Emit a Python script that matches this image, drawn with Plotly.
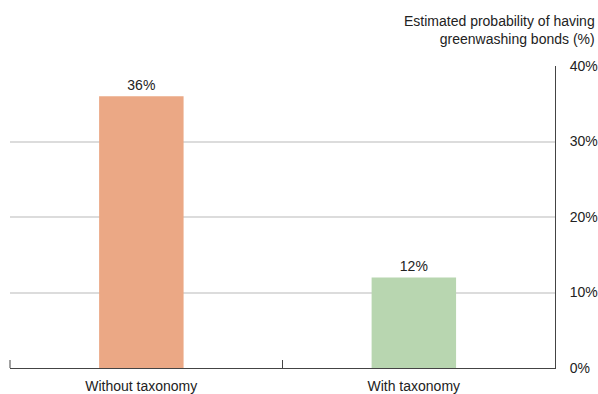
import plotly.graph_objects as go

categories = ["Without taxonomy", "With taxonomy"]
values = [36, 12]
bar_colors = ["#EBA885", "#B8D6B0"]
y_ticks = [0, 10, 20, 30, 40]
y_tick_labels = ["0%", "10%", "20%", "30%", "40%"]
title_text = "Estimated probability of having<br>greenwashing bonds (%)"

FONT = "Liberation Sans, Arial, sans-serif"

fig = go.Figure(go.Bar(
    x=categories, y=values,
    marker=dict(color=bar_colors, line=dict(width=0)),
    text=[f"{v}%" for v in values],
    textposition="outside",
    textfont=dict(size=14, color="#222222", family=FONT),
    cliponaxis=False,
    width=0.31,
    offset=-0.173,
))

fig.update_layout(
    width=598, height=394,
    margin=dict(l=10, r=43, t=66, b=26),
    paper_bgcolor="white", plot_bgcolor="white",
    showlegend=False,
    font=dict(family=FONT, size=14, color="#222222"),
    xaxis=dict(
        showline=True, linecolor="#444444", linewidth=1,
        ticks="inside", ticklen=8, tickcolor="#444444", tickwidth=1,
        tickson="boundaries", showgrid=False, automargin=False,
        tickfont=dict(size=14, color="#222222"),
        ticklabelstandoff=5, ticklabelshift=-5,
        range=[-0.5, 1.5],
    ),
    yaxis=dict(
        side="right", range=[0, 40], automargin=False,
        tickvals=y_ticks, ticktext=y_tick_labels,
        showline=True, linecolor="#444444", linewidth=1,
        showgrid=True, gridcolor="#DCDCDC", gridwidth=2,
        zeroline=False, ticks="", ticklabelstandoff=11,
        tickfont=dict(size=14, color="#222222"),
    ),
    shapes=[dict(
        type="line", xref="x domain", yref="y domain",
        x0=0, x1=0, y0=0, y1=8 / 302,
        line=dict(color="#444444", width=1),
    )],
    annotations=[dict(
        text=title_text, xref="paper", yref="paper",
        x=(597 - 10) / 545, y=(368 - 11) / 302,
        xanchor="right", yanchor="top", align="right",
        showarrow=False, font=dict(size=14, color="#222222", family=FONT),
    )],
)

fig.write_html("out.html")
